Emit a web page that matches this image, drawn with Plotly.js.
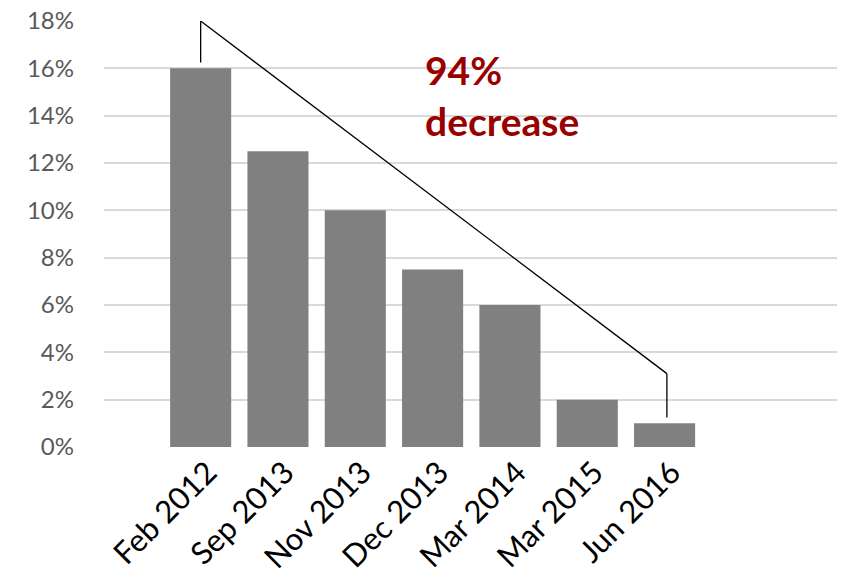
<!DOCTYPE html>
<html>
<head>
<meta charset="utf-8">
<script src="https://cdn.plot.ly/plotly-3.0.1.min.js"></script>
<style>
  html, body { margin: 0; padding: 0; background: #fff; }
  #chart { width: 843px; height: 574px; }
</style>
</head>
<body>
<div id="chart"></div>
<script>
// Data
const categories = ["Feb 2012", "Sep 2013", "Nov 2013", "Dec 2013", "Mar 2014", "Mar 2015", "Jun 2016"];
const values = [0.16, 0.125, 0.10, 0.075, 0.06, 0.02, 0.01];
const yTickVals = [0, 0.02, 0.04, 0.06, 0.08, 0.10, 0.12, 0.14, 0.16, 0.18];
const yTickText = ["0%", "2%", "4%", "6%", "8%", "10%", "12%", "14%", "16%", "18%"];
// Bracket annotation levels (start top, end top)
const bracketTop = [0.18, 0.031];
const bracketGap = 0.0025;
const annotationText = "94%<br>decrease";

const first = 0, last = categories.length - 1;

const trace = {
  type: "bar",
  x: categories.map((_, i) => i),
  y: values,
  marker: { color: "#808080", line: { width: 0 } },
  hoverinfo: "skip"
};

const lineStyle = { color: "#000000", width: 1.3 };

const layout = {
  width: 843,
  height: 574,
  margin: { l: 104, r: 6, t: 21, b: 127 },
  paper_bgcolor: "#ffffff",
  plot_bgcolor: "#ffffff",
  showlegend: false,
  bargap: 0.21,
  font: { family: "Lato, 'Open Sans', sans-serif", color: "#595959" },
  xaxis: {
    range: [-1.25, 8.23],
    tickmode: "array",
    tickvals: categories.map((_, i) => i),
    ticktext: categories,
    tickangle: -45,
    tickfont: { family: "Lato, sans-serif", size: 31, color: "#000000" },
    ticklabelshift: 7,
    showgrid: false,
    zeroline: false,
    showline: false,
    ticks: "",
    fixedrange: true
  },
  yaxis: {
    range: [0, 0.18],
    tickmode: "array",
    tickvals: yTickVals,
    ticktext: yTickText,
    tickfont: { family: "Lato, sans-serif", size: 24, color: "#595959" },
    showgrid: true,
    gridcolor: "#d9d9d9",
    gridwidth: 2,
    zeroline: false,
    showline: false,
    ticks: "",
    ticklabelstandoff: 29,
    fixedrange: true
  },
  shapes: [
    { type: "line", xref: "x", yref: "y", x0: first, x1: first, y0: values[first] + bracketGap, y1: bracketTop[0], line: lineStyle },
    { type: "line", xref: "x", yref: "y", x0: first, x1: last + 0.03, y0: bracketTop[0], y1: bracketTop[1], line: lineStyle },
    { type: "line", xref: "x", yref: "y", x0: last + 0.03, x1: last + 0.03, y0: bracketTop[1], y1: values[last] + bracketGap, line: lineStyle }
  ],
  annotations: [
    {
      xref: "x", yref: "y",
      x: 2.88, y: 0.1485,
      xanchor: "left", yanchor: "middle",
      align: "left",
      showarrow: false,
      text: "<b>" + annotationText + "</b>",
      font: { family: "Lato, sans-serif", size: 39, color: "#990000" }
    }
  ]
};

Plotly.newPlot("chart", [trace], layout, { displayModeBar: false, staticPlot: true });
</script>
</body>
</html>
